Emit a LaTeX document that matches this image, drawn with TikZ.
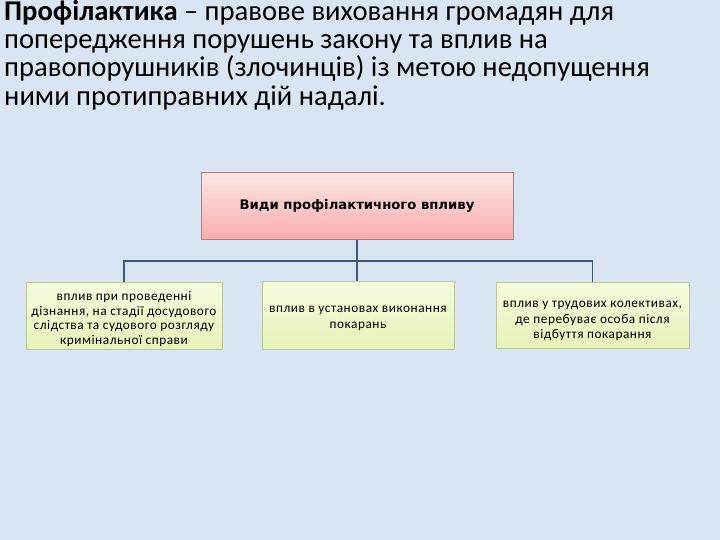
\documentclass[tikz,border=0pt]{standalone}
\usepackage{fontspec}
\setmainfont{Carlito}
\newfontfamily\headfont{DejaVu Sans}
\newfontfamily\kindfont[LetterSpace=4]{Carlito}
\definecolor{slidebg}{RGB}{218,229,243}
\definecolor{linkblue}{RGB}{64,88,118}
\definecolor{headtop}{RGB}{253,230,230}
\definecolor{headbot}{RGB}{249,172,172}
\definecolor{headrim}{RGB}{190,120,125}
\definecolor{kindtop}{RGB}{246,251,222}
\definecolor{kindbot}{RGB}{230,242,185}
\definecolor{kindrim}{RGB}{185,200,150}
\tikzset{
  headbox/.style={draw=headrim, line width=0.6pt, top color=headtop, bottom color=headbot,
    minimum width=312pt, minimum height=67pt, inner sep=0pt,
    font=\headfont\fontsize{13.2}{14}\selectfont\bfseries},
  kindbox/.style={draw=kindrim, line width=0.6pt, top color=kindtop, bottom color=kindbot,
    minimum height=67pt, inner sep=0pt},
  kindtext/.style={inner sep=0pt, align=center,
    font=\kindfont\fontsize{13.3}{14.6}\selectfont},
  link/.style={draw=linkblue, line width=1.8pt}
}
\begin{document}
\begin{tikzpicture}[x=1pt,y=-1pt]
\useasboundingbox (0,0) rectangle (720,540);
\fill[slidebg] (0,0) rectangle (720,540);
% title text
\node[anchor=north west, inner sep=0pt, align=left,
  font=\fontsize{28.6}{28.3}\selectfont] (title) at (4,0)
  {\textbf{Профілактика} -- правове виховання громадян для\\
   попередження порушень закону та вплив на\\
   правопорушників (злочинців) із метою недопущення\\
   ними протиправних дій надалі.};
% boxes
\node[headbox] (kinds) at (357,206) {Види профілактичного впливу};
\node[kindbox, minimum width=196pt] (inquiry) at (124,316) {};
\node[kindbox, minimum width=192pt, minimum height=68pt] (prison) at (358,315) {};
\node[kindbox, minimum width=193pt, minimum height=66pt] (labour) at (592.5,315) {};
% box texts
\node[kindtext] (inquiry-text) at (124,319)
  {вплив при проведенні\\ дізнання, на стадії досудового\\ слідства та судового розгляду\\ кримінальної справи};
\node[kindtext, font=\kindfont\fontsize{13.3}{16.5}\selectfont] (prison-text) at (358,318.5)
  {вплив в установах виконання\\ покарань};
\node[kindtext, font=\kindfont\fontsize{13.3}{15.5}\selectfont] (labour-text) at (592.5,321)
  {вплив у трудових колективах,\\ де перебуває особа після\\ відбуття покарання};
% connectors
\coordinate (fork) at (357,261);
\draw[link] (kinds.south) -- (fork);
\draw[link] (fork) -| (inquiry.north);
\draw[link] (fork) -- (prison.north -| fork);
\draw[link] (fork) -| (labour.north);
\end{tikzpicture}
\end{document}
